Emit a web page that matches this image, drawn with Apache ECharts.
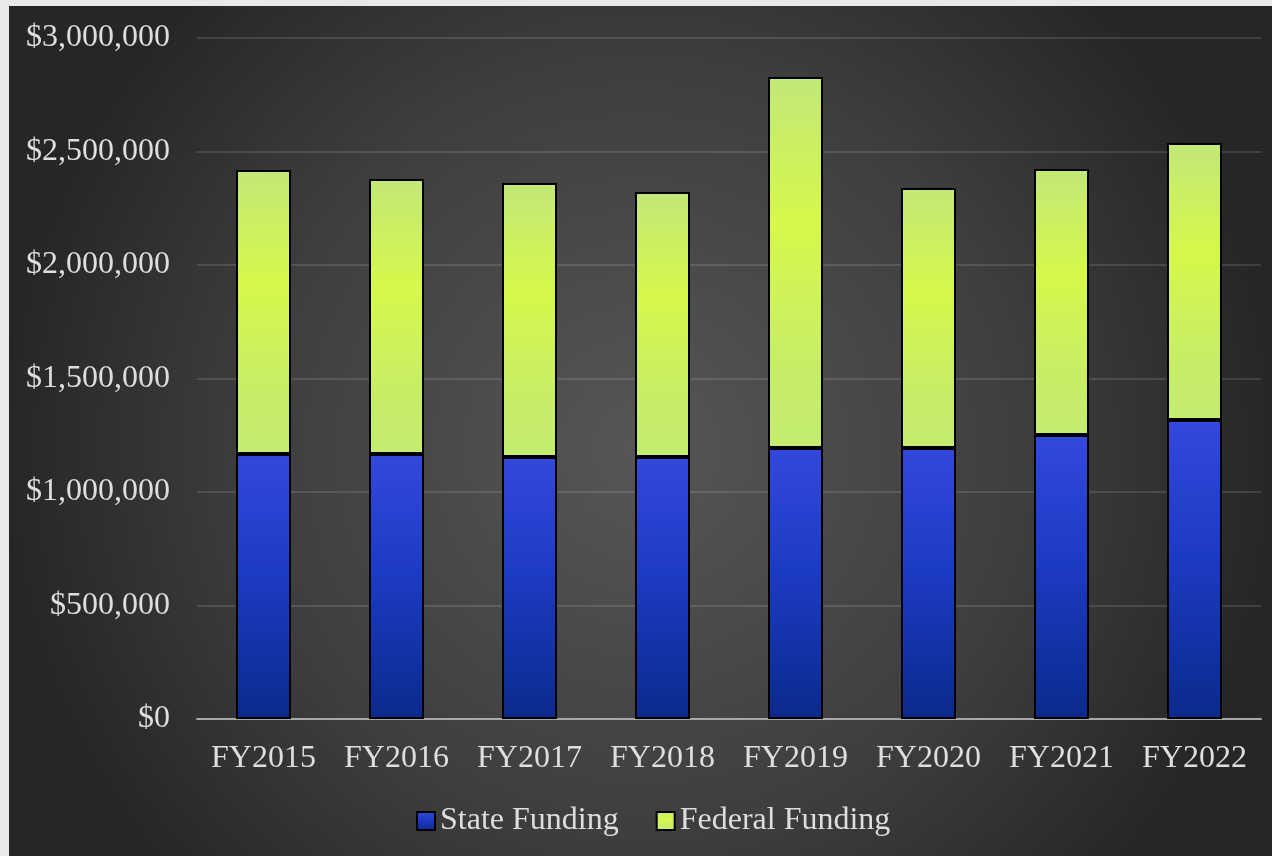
<!DOCTYPE html>
<html>
<head>
<meta charset="utf-8">
<script src="https://cdn.jsdelivr.net/npm/echarts@6/dist/echarts.min.js"></script>
<style>
  html, body { margin: 0; padding: 0; width: 1272px; height: 856px; overflow: hidden; background: #e9e9e9; }
  #chart { position: absolute; left: 9px; top: 6px; width: 1263px; height: 850px; }
</style>
</head>
<body>
<div id="chart"></div>
<script>
const categories = ['FY2015', 'FY2016', 'FY2017', 'FY2018', 'FY2019', 'FY2020', 'FY2021', 'FY2022'];
const stateFunding = [1167000, 1167000, 1154000, 1154000, 1194000, 1194000, 1251000, 1317000];
const federalFunding = [1251000, 1212000, 1207000, 1168000, 1634000, 1145000, 1172000, 1220000];
const seriesNames = ['State Funding', 'Federal Funding'];

const chart = echarts.init(document.getElementById('chart'));
const font = '"Liberation Serif", "Times New Roman", serif';
const textColor = '#dedede';

const blueGrad = new echarts.graphic.LinearGradient(0, 0, 0, 1, [
  { offset: 0, color: '#3348dc' },
  { offset: 0.45, color: '#1c3bc4' },
  { offset: 1, color: '#0a2a8c' }
]);
const greenGrad = new echarts.graphic.LinearGradient(0, 0, 0, 1, [
  { offset: 0, color: '#c2e878' },
  { offset: 0.4, color: '#d6f84a' },
  { offset: 0.75, color: '#c8ee66' },
  { offset: 1, color: '#c4ec70' }
]);

chart.setOption({
  backgroundColor: new echarts.graphic.RadialGradient(0.5, 0.52, 0.75, [
    { offset: 0, color: '#565656' },
    { offset: 0.6, color: '#3e3e3e' },
    { offset: 1, color: '#262626' }
  ]),
  animation: false,
  grid: { left: 188, right: 11, top: 32, bottom: 137 },
  legend: {
    data: seriesNames,
    left: 402,
    top: 794,
    itemWidth: 18,
    itemHeight: 18,
    itemGap: 37,
    icon: 'rect',
    textStyle: { color: textColor, fontFamily: font, fontSize: 32 }
  },
  xAxis: {
    type: 'category',
    data: categories,
    axisLine: { lineStyle: { color: '#a8a8a8', width: 2 } },
    axisTick: { show: false },
    axisLabel: { color: textColor, fontFamily: font, fontSize: 32, margin: 24, interval: 0, hideOverlap: false }
  },
  yAxis: {
    type: 'value',
    min: 0,
    max: 3000000,
    interval: 500000,
    axisLine: { show: false },
    axisTick: { show: false },
    splitLine: { lineStyle: { color: 'rgba(255,255,255,0.12)', width: 2 } },
    axisLabel: {
      color: textColor, fontFamily: font, fontSize: 32, margin: 27,
      formatter: v => '$' + v.toLocaleString('en-US')
    }
  },
  series: [
    {
      name: seriesNames[0], type: 'bar', stack: 'total', data: stateFunding, barWidth: 55,
      itemStyle: { color: blueGrad, borderColor: '#000', borderWidth: 2 }
    },
    {
      name: seriesNames[1], type: 'bar', stack: 'total', data: federalFunding, barWidth: 55,
      itemStyle: { color: greenGrad, borderColor: '#000', borderWidth: 2 }
    }
  ]
});
</script>
</body>
</html>
